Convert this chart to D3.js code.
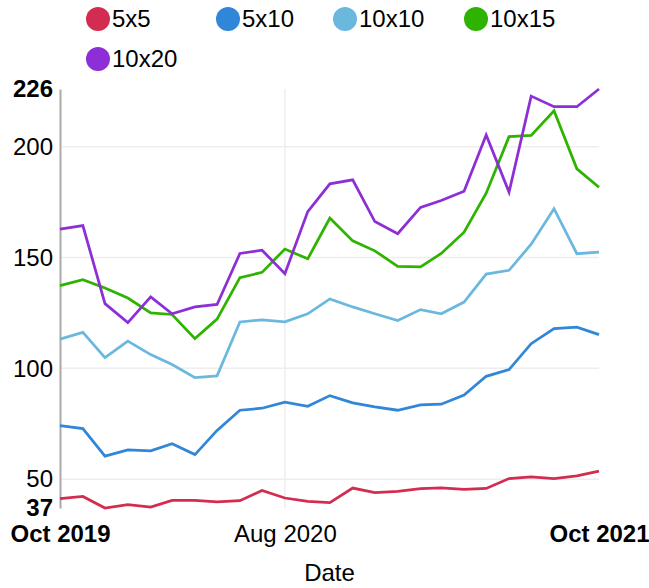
<!DOCTYPE html>
<html>
<head>
<meta charset="utf-8">
<script src="https://cdn.jsdelivr.net/npm/d3@7"></script>
<style>
  html, body { margin: 0; padding: 0; background: #fff; }
  svg { display: block; font-family: "Liberation Sans", Arial, sans-serif; }
</style>
</head>
<body>
<svg id="chart" width="649" height="588"></svg>
<script>
// monthly sample dates
const months = [
  "2019-10", "2019-11", "2019-12", "2020-01", "2020-02", "2020-03", "2020-04",
  "2020-05", "2020-06", "2020-07", "2020-08", "2020-09", "2020-10", "2020-11",
  "2020-12", "2021-01", "2021-02", "2021-03", "2021-04", "2021-05", "2021-06",
  "2021-07", "2021-08", "2021-09", "2021-10"
];

const seriesNames = ["5x5", "5x10", "10x10", "10x15", "10x20"];

const values5x5 = [41.2, 42.2, 37, 38.5, 37.4, 40.4, 40.4, 39.8, 40.3, 44.9, 41.5, 40.0, 39.4,
  46.0, 43.9, 44.5, 45.7, 46.1, 45.4, 45.8, 50.3, 51.0, 50.2, 51.5, 53.6];
const values5x10 = [74.2, 72.8, 60.4, 63.2, 62.8, 66.0, 61.1, 72.0, 81.1, 82.0, 84.7, 82.9, 87.7,
  84.4, 82.6, 81.1, 83.5, 83.8, 88.0, 96.4, 99.4, 111.1, 117.9, 118.6, 115.2];
const values10x10 = [113.2, 116.2, 104.8, 112.3, 106.2, 101.7, 95.8, 96.6, 120.9, 121.9, 121.0, 124.6, 131.3,
  127.7, 124.6, 121.6, 126.5, 124.6, 129.9, 142.5, 144.2, 156.0, 172.0, 151.7, 152.4];
const values10x15 = [137.3, 140.0, 136.2, 131.7, 125.0, 124.3, 113.4, 122.2, 140.9, 143.3, 153.8, 149.4, 167.8,
  157.5, 153.0, 146.0, 145.8, 151.8, 161.4, 179.0, 204.5, 205.1, 216.2, 190.0, 181.7];
const values10x20 = [162.8, 164.4, 129.2, 120.6, 132.2, 124.6, 127.7, 128.8, 151.8, 153.3, 142.7, 170.7, 183.2,
  185.0, 166.2, 160.7, 172.6, 175.7, 179.9, 205.3, 179.5, 222.8, 218.0, 218.0, 226];

const yTicks = [37, 50, 100, 150, 200, 226];
const yBoldTicks = [37, 226];
const xTicks = ["2019-10", "2020-08", "2021-10"];
const xBoldTicks = ["2019-10", "2021-10"];
const xTitle = "Date";

const colors = ["#d42c50", "#3086d8", "#6bb8df", "#2eb300", "#8d2ed6"];

// layout
const margin = { left: 60, right: 50, top: 89, bottom: 80 };
const width = 649, height = 588;
const fontSize = 24;
const legendSlots = [[98, 19], [228, 19], [345, 19], [476, 19], [98, 59]];

const parse = d3.timeParse("%Y-%m");
const fmt = d3.timeFormat("%b %Y");
const dates = months.map(parse);
const allSeries = [values5x5, values5x10, values10x10, values10x15, values10x20];

const svg = d3.select("#chart");

const x = d3.scaleTime()
  .domain(d3.extent(dates))
  .range([margin.left, width - margin.right]);

const y = d3.scaleLinear()
  .domain([d3.min(allSeries, s => d3.min(s)), d3.max(allSeries, s => d3.max(s))])
  .range([height - margin.bottom, margin.top]);

// grid
const grid = svg.append("g").attr("class", "grid");
grid.selectAll("line.h")
  .data(yTicks.filter(t => !yBoldTicks.includes(t)))
  .join("line")
  .attr("x1", x.range()[0]).attr("x2", x.range()[1])
  .attr("y1", d => y(d)).attr("y2", d => y(d))
  .attr("stroke", "#eeeeee").attr("stroke-width", 1.5);
grid.selectAll("line.v")
  .data(xTicks.filter(t => !xBoldTicks.includes(t)))
  .join("line")
  .attr("x1", d => x(parse(d))).attr("x2", d => x(parse(d)))
  .attr("y1", y.range()[0]).attr("y2", y.range()[1])
  .attr("stroke", "#eeeeee").attr("stroke-width", 1.5);

// y axis
const yAxis = svg.append("g")
  .attr("transform", `translate(${margin.left},0)`)
  .call(d3.axisLeft(y).tickValues(yTicks).tickSize(0).tickPadding(7).tickFormat(d3.format("d")));
yAxis.select(".domain").attr("stroke", "#aaaaaa").attr("stroke-width", 2);
yAxis.selectAll(".tick text")
  .attr("font-size", fontSize)
  .attr("fill", "#000")
  .attr("font-family", null)
  .attr("font-weight", d => yBoldTicks.includes(d) ? "bold" : "normal");

// x axis
const xAxis = svg.append("g")
  .attr("transform", `translate(0,${height - margin.bottom})`)
  .call(d3.axisBottom(x).tickValues(xTicks.map(parse)).tickSize(0).tickPadding(17).tickFormat(fmt));
xAxis.select(".domain").remove();
xAxis.selectAll(".tick text")
  .attr("font-size", fontSize)
  .attr("fill", "#000")
  .attr("font-family", null)
  .attr("font-weight", d => xBoldTicks.includes(d3.timeFormat("%Y-%m")(d)) ? "bold" : "normal");

svg.append("text")
  .attr("x", (x.range()[0] + x.range()[1]) / 2)
  .attr("y", height - 7)
  .attr("text-anchor", "middle")
  .attr("font-size", fontSize)
  .text(xTitle);

// lines
const line = d3.line()
  .x((d, i) => x(dates[i]))
  .y(d => y(d));

svg.append("g").selectAll("path")
  .data(allSeries)
  .join("path")
  .attr("d", line)
  .attr("fill", "none")
  .attr("stroke", (d, i) => colors[i])
  .attr("stroke-width", 2.75)
  .attr("stroke-linejoin", "miter");

// legend
const legend = svg.append("g").selectAll("g")
  .data(seriesNames)
  .join("g")
  .attr("transform", (d, i) => `translate(${legendSlots[i][0]},${legendSlots[i][1]})`);
legend.append("circle")
  .attr("r", 12)
  .attr("fill", (d, i) => colors[i]);
legend.append("text")
  .attr("x", 14)
  .attr("dy", "0.35em")
  .attr("font-size", fontSize)
  .text(d => d);
</script>
</body>
</html>
